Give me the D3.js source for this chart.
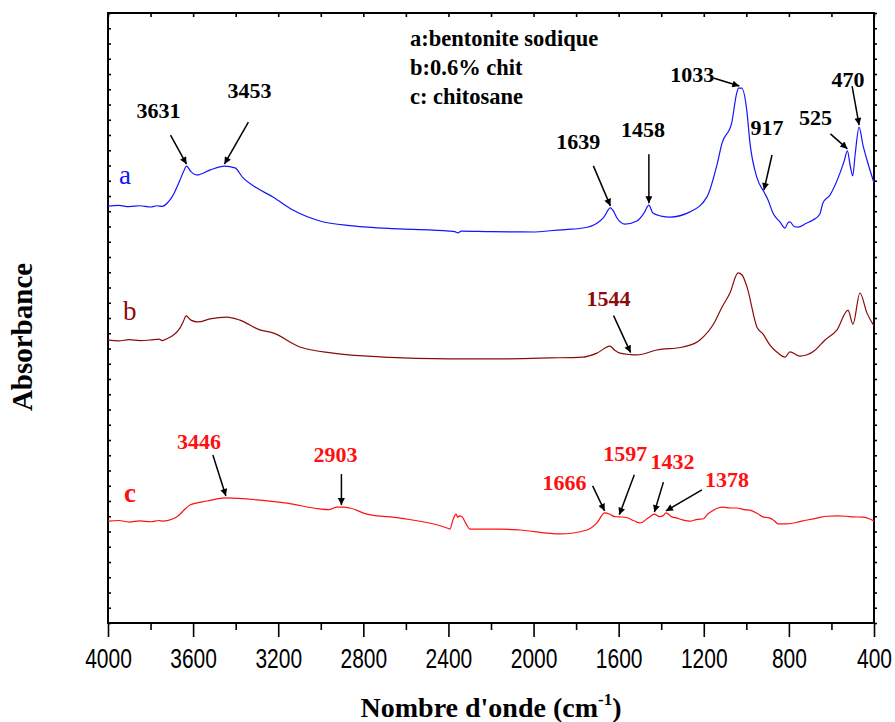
<!DOCTYPE html>
<html>
<head>
<meta charset="utf-8">
<script src="https://cdn.jsdelivr.net/npm/d3@7"></script>
<style>
  html, body { margin: 0; padding: 0; background: #fff; }
  svg { display: block; }
</style>
</head>
<body>
<svg id="chart" width="895" height="722"></svg>
<script>
// FTIR spectra: wavenumber (cm-1) and absorbance (arbitrary offset units)
const seriesA = [
  [4000,1.367],[3950,1.369],[3900,1.365],[3850,1.368],[3800,1.364],[3770,1.368],[3746,1.366],[3720,1.378],
  [3699,1.397],[3662,1.452],[3645,1.480],[3631,1.498],[3610,1.480],[3582,1.469],[3521,1.485],[3453,1.498],
  [3403,1.492],[3366,1.460],[3300,1.426],[3225,1.397],[3131,1.354],[3004,1.318],[2849,1.302],[2628,1.292],
  [2397,1.285],[2370,1.283],[2355,1.279],[2340,1.285],[2200,1.283],[1993,1.282],[1923,1.286],[1850,1.290],
  [1768,1.295],[1702,1.311],[1670,1.330],[1639,1.361],[1620,1.345],[1608,1.328],[1570,1.308],[1514,1.318],
  [1480,1.345],[1458,1.370],[1439,1.344],[1400,1.334],[1359,1.331],[1265,1.348],[1185,1.397],[1138,1.502],
  [1114,1.574],[1069,1.639],[1045,1.738],[1036,1.754],[1022,1.754],[998,1.682],[983,1.574],[951,1.462],
  [917,1.413],[898,1.387],[875,1.344],[842,1.315],[818,1.295],[805,1.312],[795,1.315],[775,1.300],
  [757,1.298],[720,1.310],[687,1.321],[655,1.340],[640,1.377],[607,1.403],[560,1.475],[540,1.515],
  [525,1.548],[512,1.500],[500,1.466],[488,1.540],[470,1.626],[452,1.567],[433,1.518],[400,1.443]
];
const seriesB = [
  [4000,0.928],[3950,0.925],[3900,0.929],[3850,0.926],[3800,0.928],[3760,0.931],[3746,0.926],[3720,0.933],
  [3699,0.941],[3662,0.967],[3645,0.990],[3633,1.007],[3610,0.993],[3577,0.987],[3521,0.997],[3441,1.003],
  [3380,0.993],[3286,0.961],[3225,0.951],[3098,0.905],[2943,0.885],[2708,0.872],[2393,0.866],[2158,0.866],
  [1923,0.869],[1768,0.872],[1702,0.885],[1641,0.908],[1620,0.895],[1594,0.885],[1544,0.880],[1514,0.879],
  [1420,0.895],[1298,0.905],[1218,0.928],[1150,0.985],[1114,1.036],[1077,1.082],[1039,1.148],[1020,1.141],
  [997,1.102],[950,0.970],[922,0.948],[889,0.911],[851,0.885],[818,0.872],[795,0.889],[748,0.875],
  [687,0.889],[630,0.928],[574,0.961],[522,1.026],[499,0.980],[466,1.082],[433,1.016],[400,0.974]
];
const seriesC = [
  [4000,0.334],[3950,0.336],[3900,0.331],[3850,0.335],[3800,0.332],[3760,0.336],[3742,0.334],[3700,0.340],
  [3671,0.351],[3640,0.372],[3615,0.387],[3535,0.400],[3446,0.410],[3286,0.403],[3159,0.393],[3004,0.374],
  [2960,0.372],[2924,0.380],[2890,0.380],[2863,0.377],[2783,0.357],[2628,0.344],[2400,0.310],[2393,0.308],
  [2379,0.338],[2364,0.357],[2356,0.346],[2350,0.351],[2336,0.348],[2317,0.325],[2299,0.308],[2158,0.308],
  [2064,0.305],[1876,0.292],[1749,0.305],[1702,0.328],[1666,0.361],[1640,0.356],[1620,0.349],[1597,0.348],
  [1560,0.345],[1530,0.336],[1500,0.328],[1460,0.345],[1432,0.357],[1410,0.349],[1392,0.351],[1378,0.361],
  [1350,0.348],[1326,0.344],[1300,0.338],[1265,0.334],[1230,0.340],[1204,0.341],[1180,0.358],[1161,0.367],
  [1130,0.378],[1110,0.380],[1075,0.377],[1044,0.377],[1010,0.372],[983,0.370],[950,0.360],[922,0.348],
  [905,0.346],[889,0.344],[870,0.336],[851,0.325],[809,0.325],[740,0.334],[668,0.344],[620,0.350],
  [574,0.351],[530,0.350],[499,0.348],[450,0.347],[420,0.341],[400,0.334]
];

const seriesNames = ["a", "b", "c"];
const legendLines = ["a:bentonite sodique", "b:0.6% chit", "c: chitosane"];
const xTickValues = [4000, 3600, 3200, 2800, 2400, 2000, 1600, 1200, 800, 400];

// Peak assignments per spectrum
const peaksA = [3631, 3453, 1639, 1458, 1033, 917, 525, 470];
const peaksB = [1544];
const peaksC = [3446, 2903, 1666, 1597, 1432, 1378];

// ---- layout ----
const margin = { left: 108, right: 874, top: 13, bottom: 623 };
const colors = { a: "#1414ff", b: "#8b0a0a", c: "#ff1010" };
const serif = "'Liberation Serif', 'Times New Roman', serif";

const svg = d3.select("#chart");
svg.append("rect").attr("width", 895).attr("height", 722).attr("fill", "#fff");

const x = d3.scaleLinear().domain([4000, 400]).range([margin.left, margin.right]);
const y = d3.scaleLinear().domain([0, 2]).range([margin.bottom, margin.top]);

// ---- axes ----
const minorX = d3.range(4000, 399, -200);
const yTicks = d3.range(0, 2.0001, 0.05);

const bottomMajor = d3.axisBottom(x).tickValues(xTickValues).tickSize(14).tickFormat(d3.format("d"));
const bottomMinor = d3.axisBottom(x).tickValues(minorX.filter(v => v % 400 !== 0)).tickSize(7).tickFormat("");
const topAxis = d3.axisTop(x).tickValues(minorX).tickSize(-4).tickFormat("");
const leftAxis = d3.axisLeft(y).tickValues(yTicks).tickSize(-3).tickFormat("");
const rightAxis = d3.axisRight(y).tickValues(yTicks).tickSize(3).tickFormat("");

function styleAxis(g) {
  g.select(".domain").remove();
  g.selectAll(".tick line").attr("stroke", "#000").attr("stroke-width", 1.6);
}

// tick labels are drawn in a narrow, tall sans face
const tickStretch = 1.35;
svg.append("g").attr("transform", `translate(0,${margin.bottom})`).call(bottomMajor).call(styleAxis)
  .selectAll("text")
  .attr("font-family", "'Liberation Sans', Arial, sans-serif")
  .attr("font-size", 21).attr("fill", "#000")
  .attr("y", 45 / tickStretch).attr("dy", 0)
  .attr("transform", `scale(1,${tickStretch})`);
svg.append("g").attr("transform", `translate(0,${margin.bottom})`).call(bottomMinor).call(styleAxis);
svg.append("g").attr("transform", `translate(0,${margin.top})`).call(topAxis).call(styleAxis);
svg.append("g").attr("transform", `translate(${margin.left},0)`).call(leftAxis).call(styleAxis);
svg.append("g").attr("transform", `translate(${margin.right},0)`).call(rightAxis).call(styleAxis);

// frame
svg.append("rect")
  .attr("x", margin.left).attr("y", margin.top)
  .attr("width", margin.right - margin.left).attr("height", margin.bottom - margin.top)
  .attr("fill", "none").attr("stroke", "#000").attr("stroke-width", 2);

// ---- spectra ----
const line = d3.line()
  .x(d => x(d[0])).y(d => y(d[1]))
  .curve(d3.curveMonotoneX);

const spectra = [
  { key: "a", data: seriesA, peaks: peaksA },
  { key: "b", data: seriesB, peaks: peaksB },
  { key: "c", data: seriesC, peaks: peaksC }
];

svg.append("g").selectAll("path").data(spectra).join("path")
  .attr("d", d => line(d.data))
  .attr("fill", "none")
  .attr("stroke", d => colors[d.key])
  .attr("stroke-width", 1.2);

// ---- series letters ----
const letterOffsets = { a: [11, 22], b: [15, 20], c: [16, 19] };
const letterStyle = { a: "normal", b: "normal", c: "bold" };
spectra.forEach((s, i) => {
  const first = s.data[0];
  svg.append("text")
    .attr("x", x(first[0]) + letterOffsets[s.key][0])
    .attr("y", y(first[1]) - letterOffsets[s.key][1])
    .attr("font-family", serif)
    .attr("font-size", 27)
    .attr("font-weight", letterStyle[s.key])
    .attr("fill", colors[s.key])
    .text(seriesNames[i]);
});

// ---- legend text ----
svg.append("g").selectAll("text").data(legendLines).join("text")
  .attr("x", 410)
  .attr("y", (d, i) => 46 + i * 29)
  .attr("font-family", serif)
  .attr("font-size", 22.5)
  .attr("font-weight", "bold")
  .attr("fill", "#000")
  .text(d => d);

// ---- peak annotations ----
// arrow tail and label centre given relative to the arrow tip on the curve
const annotLayout = {
  3631: { tail: [-16, -29], label: [-28, -46] },
  3453: { tail: [24, -42], label: [25, -66] },
  1639: { tail: [-17, -40], label: [-32, -57] },
  1458: { tail: [0, -49], label: [-6, -66] },
  1033: { tail: [-26, -8], label: [-47, -4] },
  917:  { tail: [8, -35], label: [3, -55] },
  525:  { tail: [-17, -15], label: [-32, -24] },
  470:  { tail: [-7, -39], label: [-11, -38] },
  1544: { tail: [-17, -37], label: [-22, -47] },
  3446: { tail: [-13, -41], label: [-27, -47] },
  2903: { tail: [0, -31], label: [-6, -43] },
  1666: { tail: [-12, -25], label: [-40, -21] },
  1597: { tail: [15, -40], label: [6, -54] },
  1432: { tail: [9, -30], label: [18, -43] },
  1378: { tail: [36, -21], label: [61, -24] }
};

svg.append("defs").append("marker")
  .attr("id", "arrowHead")
  .attr("viewBox", "0 0 10 10")
  .attr("refX", 10).attr("refY", 5)
  .attr("markerWidth", 10).attr("markerHeight", 7)
  .attr("markerUnits", "userSpaceOnUse")
  .attr("orient", "auto")
  .append("path").attr("d", "M0,0 L10,5 L0,10 z").attr("fill", "#000");

function valueAt(data, w) {
  for (let i = 0; i < data.length - 1; i++) {
    const a = data[i], b = data[i + 1];
    if (w <= a[0] && w >= b[0]) {
      const t = (a[0] - w) / (a[0] - b[0]);
      return a[1] + t * (b[1] - a[1]);
    }
  }
  return data[data.length - 1][1];
}

const annotG = svg.append("g");
spectra.forEach(s => {
  const labelColor = s.key === "a" ? "#000" : colors[s.key];
  s.peaks.forEach(w => {
    const lay = annotLayout[w];
    const tx = x(w), ty = y(valueAt(s.data, w)) - 2;
    annotG.append("line")
      .attr("x1", tx + lay.tail[0]).attr("y1", ty + lay.tail[1])
      .attr("x2", tx).attr("y2", ty)
      .attr("stroke", "#000").attr("stroke-width", 1.5)
      .attr("marker-end", "url(#arrowHead)");
    annotG.append("text")
      .attr("x", tx + lay.label[0]).attr("y", ty + lay.label[1])
      .attr("text-anchor", "middle")
      .attr("font-family", serif)
      .attr("font-size", 22).attr("font-weight", "bold")
      .attr("fill", labelColor)
      .text(w);
  });
});

// ---- axis titles ----
const xTitle = svg.append("text")
  .attr("x", 491).attr("y", 717)
  .attr("text-anchor", "middle")
  .attr("font-family", serif)
  .attr("font-size", 28).attr("font-weight", "bold").attr("fill", "#000");
xTitle.append("tspan").text("Nombre d'onde (cm");
xTitle.append("tspan").attr("font-size", 17).attr("dy", -12).text("-1");
xTitle.append("tspan").attr("dy", 12).text(")");

svg.append("text")
  .attr("transform", "translate(32,337) rotate(-90)")
  .attr("text-anchor", "middle")
  .attr("font-family", serif)
  .attr("font-size", 29).attr("font-weight", "bold").attr("fill", "#000")
  .text("Absorbance");
</script>
</body>
</html>
